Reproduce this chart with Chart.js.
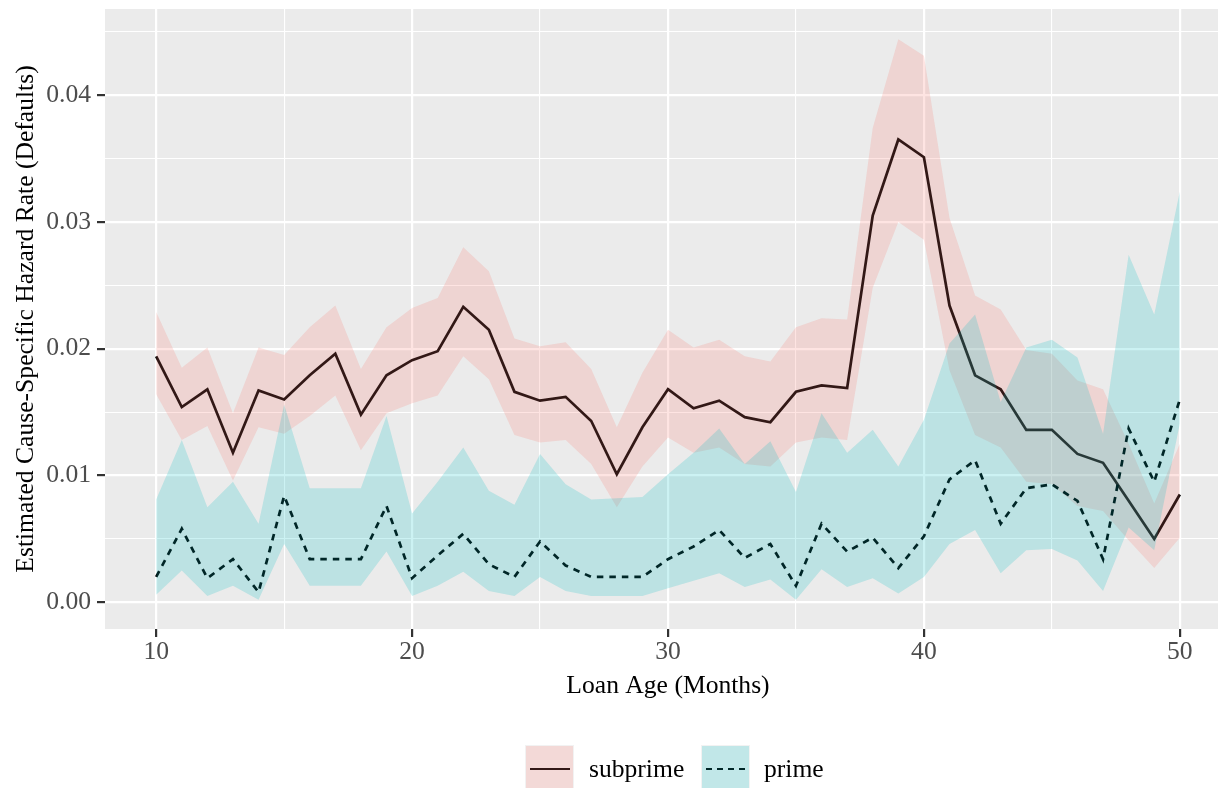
<!DOCTYPE html>
<html>
<head>
<meta charset="utf-8">
<script src="https://cdn.jsdelivr.net/npm/chart.js@4.4.1/dist/chart.umd.min.js"></script>
<style>
  html, body { margin: 0; padding: 0; background: #ffffff; overflow: hidden; }
  #wrap { position: relative; width: 1218px; height: 788px; overflow: hidden; }
  canvas { position: absolute; left: 0; top: 0; }
  .key { position: absolute; top: 745px; width: 49px; height: 48px; background: #F2F2F2; }
  .key .ln { position: absolute; left: 5px; width: 40px; top: 22.6px; height: 2.7px; }
  .key .fill { position: absolute; left: 1px; top: 1px; right: 1px; bottom: 1px; }
  .lab { position: absolute; top: 755.6px; font-family: "Liberation Serif", "Times New Roman", serif;
         font-size: 25.6px; line-height: 1; color: #000; white-space: nowrap; }
</style>
</head>
<body>
<div id="wrap">
  <canvas id="c" width="1231" height="788"></canvas>
  <div class="key" style="left:525px">
    <div class="ln" style="background:#000"></div>
    <div class="fill" style="background:rgba(248,118,109,0.2)"></div>
  </div>
  <div class="lab" style="left:589px">subprime</div>
  <div class="key" style="left:701px">
    <div class="ln" style="background:repeating-linear-gradient(90deg,#000 0 6px,transparent 6px 11px)"></div>
    <div class="fill" style="background:rgba(0,191,196,0.2)"></div>
  </div>
  <div class="lab" style="left:764px">prime</div>
</div>
<script>
// Loan age in months
const months = [10,11,12,13,14,15,16,17,18,19,20,21,22,23,24,25,26,27,28,29,30,
                31,32,33,34,35,36,37,38,39,40,41,42,43,44,45,46,47,48,49,50];

// Subprime: estimate and confidence band
const subprimeRate = [0.0194,0.0154,0.0168,0.0118,0.0167,0.0160,0.0179,0.0196,0.0148,0.0179,
                      0.0191,0.0198,0.0233,0.0215,0.0166,0.0159,0.0162,0.0143,0.0101,0.0138,
                      0.0168,0.0153,0.0159,0.0146,0.0142,0.0166,0.0171,0.0169,0.0305,0.0365,
                      0.0351,0.0234,0.0179,0.0168,0.0136,0.0136,0.0117,0.0110,0.0080,0.0050,0.0085];
const subprimeUpper = [0.0229,0.0185,0.0201,0.0149,0.0201,0.0195,0.0217,0.0234,0.0184,0.0217,
                       0.0232,0.0240,0.0280,0.0261,0.0208,0.0202,0.0205,0.0184,0.0138,0.0181,
                       0.0215,0.0201,0.0207,0.0194,0.0190,0.0217,0.0224,0.0223,0.0374,0.0444,
                       0.0431,0.0303,0.0242,0.0231,0.0199,0.0196,0.0175,0.0168,0.0125,0.0078,0.0125];
const subprimeLower = [0.0164,0.0128,0.0139,0.0096,0.0138,0.0133,0.0147,0.0163,0.0120,0.0149,
                       0.0157,0.0163,0.0194,0.0176,0.0132,0.0126,0.0128,0.0109,0.0075,0.0107,
                       0.0130,0.0118,0.0122,0.0109,0.0107,0.0126,0.0130,0.0128,0.0248,0.0300,
                       0.0286,0.0183,0.0132,0.0122,0.0095,0.0093,0.0076,0.0072,0.0049,0.0027,0.0051];

// Prime: estimate and confidence band
const primeRate = [0.0020,0.0058,0.0019,0.0034,0.0008,0.0084,0.0034,0.0034,0.0034,0.0076,
                   0.0019,0.0037,0.0054,0.0030,0.0020,0.0048,0.0029,0.0020,0.0020,0.0020,
                   0.0034,0.0044,0.0057,0.0035,0.0046,0.0013,0.0062,0.0040,0.0051,0.0027,
                   0.0052,0.0097,0.0112,0.0062,0.0090,0.0093,0.0080,0.0034,0.0137,0.0095,0.0160];
const primeUpper = [0.0081,0.0128,0.0075,0.0095,0.0062,0.0156,0.0090,0.0090,0.0090,0.0147,
                    0.0070,0.0095,0.0122,0.0088,0.0077,0.0117,0.0093,0.0081,0.0082,0.0083,
                    0.0101,0.0118,0.0137,0.0109,0.0127,0.0087,0.0149,0.0118,0.0136,0.0107,
                    0.0144,0.0204,0.0227,0.0158,0.0201,0.0207,0.0193,0.0133,0.0274,0.0227,0.0324];
const primeLower = [0.0006,0.0025,0.0005,0.0013,0.0002,0.0046,0.0013,0.0013,0.0013,0.0040,
                    0.0005,0.0013,0.0024,0.0009,0.0005,0.0020,0.0009,0.0005,0.0005,0.0005,
                    0.0011,0.0017,0.0023,0.0012,0.0018,0.0002,0.0026,0.0012,0.0019,0.0007,
                    0.0020,0.0046,0.0057,0.0023,0.0041,0.0042,0.0033,0.0009,0.0059,0.0041,0.0141];

// Axis ticks
const xMajorTicks = [10, 20, 30, 40, 50];
const xMinorTicks = [15, 25, 35, 45];
const xTickLabels = ['10', '20', '30', '40', '50'];
const yMajorTicks = [0, 0.01, 0.02, 0.03, 0.04];
const yMinorTicks = [0.005, 0.015, 0.025, 0.035, 0.045];
const yTickLabels = ['0.00', '0.01', '0.02', '0.03', '0.04'];

const pts = (ys) => months.map((m, i) => ({ x: m, y: ys[i] }));
const isMajor = (list, v) => list.some(t => Math.abs(t - v) < 1e-9);
const labelFor = (list, labels, v) => {
  const i = list.findIndex(t => Math.abs(t - v) < 1e-9);
  return i >= 0 ? labels[i] : '';
};

const SERIF = '"Liberation Serif", "Times New Roman", serif';
const PINK = 'rgba(248,118,109,0.2)';
const TEAL = 'rgba(0,191,196,0.2)';
const LINE_W = 2.7;

const panelBg = {
  id: 'panelBg',
  beforeDraw(chart) {
    const { ctx, chartArea: a } = chart;
    ctx.save();
    ctx.fillStyle = '#EBEBEB';
    ctx.fillRect(a.left, a.top, a.right - a.left, a.bottom - a.top);
    ctx.restore();
  }
};

const bandEdge = (data) => ({
  data, borderWidth: 0, pointRadius: 0, borderColor: 'transparent', fill: false, tension: 0
});

new Chart(document.getElementById('c'), {
  type: 'line',
  data: {
    datasets: [
      // drawn bottom to top: subprime line, subprime band, prime line, prime band
      { label: 'subprime', data: pts(subprimeRate), borderColor: '#000', borderWidth: LINE_W,
        pointRadius: 0, fill: false, tension: 0, order: 3 },
      Object.assign(bandEdge(pts(subprimeLower)), { label: 'subprime lower', order: 2 }),
      Object.assign(bandEdge(pts(subprimeUpper)), { label: 'subprime upper', order: 2,
        fill: { target: 1 }, backgroundColor: PINK }),
      { label: 'prime', data: pts(primeRate), borderColor: '#000', borderWidth: LINE_W,
        borderDash: [6.5, 6], pointRadius: 0, fill: false, tension: 0, order: 1 },
      Object.assign(bandEdge(pts(primeLower)), { label: 'prime lower', order: 0 }),
      Object.assign(bandEdge(pts(primeUpper)), { label: 'prime upper', order: 0,
        fill: { target: 4 }, backgroundColor: TEAL })
    ]
  },
  options: {
    responsive: false,
    animation: false,
    layout: { padding: { top: 9, right: 0, bottom: 0, left: 0 } },
    plugins: {
      legend: { display: false },
      tooltip: { enabled: false },
      filler: { propagate: false }
    },
    scales: {
      x: {
        type: 'linear',
        min: 8, max: 52,
        afterBuildTicks: (s) => {
          s.ticks = [...xMajorTicks, ...xMinorTicks].sort((a, b) => a - b).map(v => ({ value: v }));
        },
        afterFit: (s) => { s.height = 159; s.paddingLeft = 0; s.paddingRight = 0; },
        border: { display: false },
        grid: {
          color: '#FFFFFF',
          lineWidth: (c) => isMajor(xMajorTicks, c.tick.value) ? 2.2 : 1.1,
          tickColor: (c) => isMajor(xMajorTicks, c.tick.value) ? '#333333' : 'rgba(0,0,0,0)',
          tickWidth: 2.2,
          tickLength: 8
        },
        ticks: {
          autoSkip: false,
          maxRotation: 0,
          padding: 0,
          color: '#4D4D4D',
          font: { family: SERIF, size: 25.6 },
          callback: (v) => labelFor(xMajorTicks, xTickLabels, v)
        },
        title: {
          display: true,
          text: 'Loan Age (Months)',
          color: '#000',
          font: { family: SERIF, size: 25.6 },
          padding: { top: 0, bottom: 86 }
        }
      },
      y: {
        type: 'linear',
        min: -0.002106, max: 0.04679,
        afterBuildTicks: (s) => {
          s.ticks = [...yMajorTicks, ...yMinorTicks].sort((a, b) => a - b).map(v => ({ value: v }));
        },
        afterFit: (s) => { s.width = 105; s.paddingTop = 0; s.paddingBottom = 0; },
        border: { display: false },
        grid: {
          color: '#FFFFFF',
          lineWidth: (c) => isMajor(yMajorTicks, c.tick.value) ? 2.2 : 1.1,
          tickColor: (c) => isMajor(yMajorTicks, c.tick.value) ? '#333333' : 'rgba(0,0,0,0)',
          tickWidth: 2.2,
          tickLength: 8
        },
        ticks: {
          autoSkip: false,
          padding: 6,
          color: '#4D4D4D',
          font: { family: SERIF, size: 25.6 },
          callback: (v) => labelFor(yMajorTicks, yTickLabels, v)
        },
        title: {
          display: true,
          text: 'Estimated Cause-Specific Hazard Rate (Defaults)',
          color: '#000',
          font: { family: SERIF, size: 25.6 },
          padding: { top: 11, bottom: 0 }
        }
      }
    }
  },
  plugins: [panelBg]
});
</script>
</body>
</html>
